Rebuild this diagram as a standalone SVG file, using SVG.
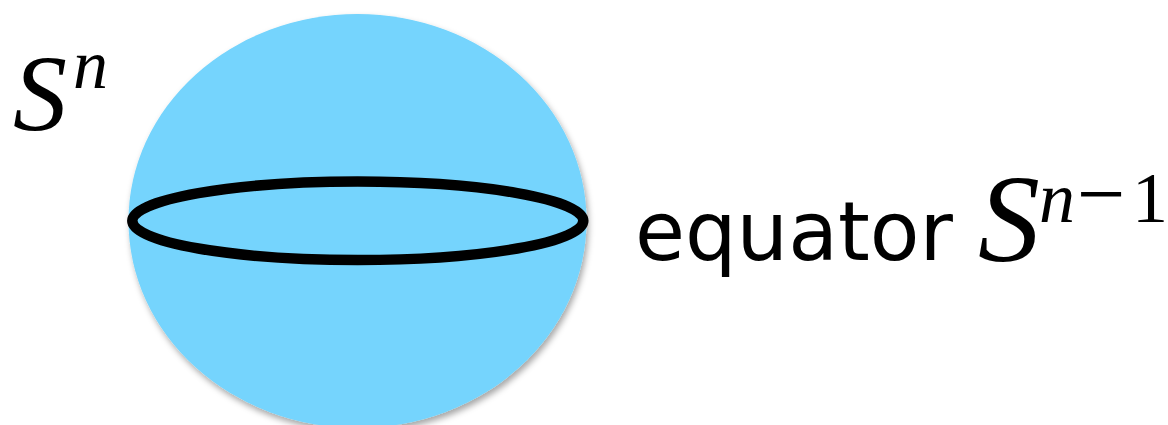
<svg xmlns="http://www.w3.org/2000/svg" width="1168" height="425" viewBox="0 0 1168 425">
  <style>
    .serif { font-family: "Liberation Serif", "Times New Roman", serif; font-style: italic; fill: #000; }
    .upright { font-family: "Liberation Serif", "Times New Roman", serif; fill: #000; }
    .sans { font-family: "DejaVu Sans", "Lucida Grande", sans-serif; fill: #000; }
  </style>
  <defs>
    <filter id="shadow" x="-10%" y="-10%" width="120%" height="125%">
      <feDropShadow dx="2" dy="4" stdDeviation="3" flood-color="#000" flood-opacity="0.35"/>
    </filter>
  </defs>
  <rect width="1168" height="425" fill="#fff"/>
  <g id="sphere">
    <ellipse cx="357.5" cy="221" rx="229" ry="207" fill="#74D4FD" filter="url(#shadow)"/>
  </g>
  <g id="equator">
    <ellipse cx="357.8" cy="220.8" rx="225.5" ry="39.2" fill="none" stroke="#000" stroke-width="10.5"/>
  </g>
  <g id="label-sn">
    <text class="serif" x="13" y="130" font-size="108">S</text>
    <text class="serif" x="73" y="88" font-size="70">n</text>
  </g>
  <g id="label-equator">
    <text class="sans" x="635" y="260" font-size="82" textLength="318" lengthAdjust="spacingAndGlyphs">equator</text>
    <text class="serif" x="978" y="261" font-size="124">S</text>
    <text class="serif" x="1039" y="222" font-size="72">n</text>
    <text class="upright" x="1077" y="223" font-size="86">−</text>
    <text class="upright" x="1132" y="222" font-size="72">1</text>
  </g>
</svg>
